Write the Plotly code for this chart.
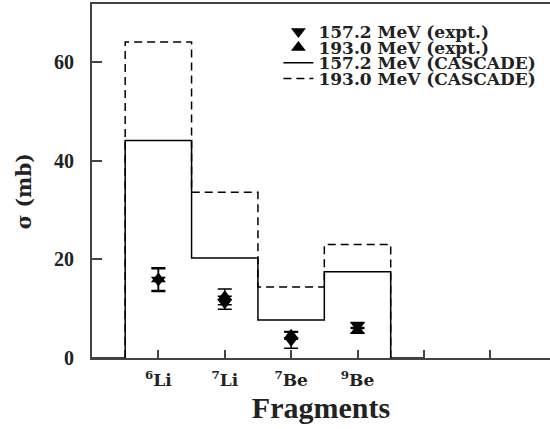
import plotly.graph_objects as go

# Fragment categories (positions 1..4 on the x axis)
fragments = ["<sup>6</sup>Li", "<sup>7</sup>Li", "<sup>7</sup>Be", "<sup>9</sup>Be"]
frag_pos = [1, 2, 3, 4]

# Measured cross sections (mb) with uncertainties
expt_157 = [15.8, 11.2, 3.6, 6.6]
err_157 = [2.3, 1.3, 1.6, 0.6]
expt_193 = [16.0, 12.4, 4.6, 5.6]
err_193 = [2.3, 1.6, 0.8, 0.6]

# CASCADE predictions, drawn as step histograms over bin edges
bin_edges = [0, 0.5, 1.5, 2.5, 3.5, 4.5, 5.0]
cascade_157 = [0, 44.1, 20.3, 7.7, 17.5, 0, 0]
dash_edges = [0.5, 0.5, 1.5, 2.5, 3.5, 4.5]
cascade_193 = [0, 64.1, 33.6, 14.4, 23.0, 0]

SERIF = "Liberation Serif"
WIDE = "DejaVu Serif"
INK = "#222"

fig = go.Figure()

fig.add_trace(go.Scatter(
    x=frag_pos, y=expt_157, mode="markers", name="157.2 MeV (expt.)",
    legend="legend",
    marker=dict(symbol="triangle-down", size=13, color="black"),
    error_y=dict(type="data", array=err_157, color="black", thickness=1.5, width=7),
))
fig.add_trace(go.Scatter(
    x=frag_pos, y=expt_193, mode="markers", name="193.0 MeV (expt.)",
    legend="legend2",
    marker=dict(symbol="triangle-up", size=13, color="black"),
    error_y=dict(type="data", array=err_193, color="black", thickness=1.5, width=7),
))
fig.add_trace(go.Scatter(
    x=bin_edges, y=cascade_157, mode="lines", name="157.2 MeV (CASCADE)",
    legend="legend3",
    line=dict(shape="hv", color="black", width=1.5),
))
fig.add_trace(go.Scatter(
    x=dash_edges, y=cascade_193, mode="lines", name="193.0 MeV (CASCADE)",
    legend="legend4",
    line=dict(shape="hv", color="black", width=1.5, dash="8px,5px"),
))


def legend_row(ypos):
    # one legend box per entry so the rows can sit close together
    return dict(
        x=0.407, y=ypos, xanchor="left", yanchor="middle",
        font=dict(family=WIDE, size=17, weight="bold", color=INK),
        bgcolor="rgba(0,0,0,0)", itemwidth=30, visible=True,
    )


fig.update_layout(
    width=550, height=429,
    margin=dict(l=92, r=0, t=4, b=71),
    plot_bgcolor="white", paper_bgcolor="white",
    font=dict(family=SERIF, color=INK, size=18, weight="bold"),
    showlegend=True,
    legend=legend_row(0.921),
    legend2=legend_row(0.876),
    legend3=legend_row(0.833),
    legend4=legend_row(0.788),
    xaxis=dict(
        range=[0, 6.9], tickmode="array",
        tickvals=frag_pos, ticktext=fragments,
        ticks="inside", ticklen=8, tickwidth=1.5, tickcolor="#444",
        minor=dict(tickmode="array", tickvals=[5, 6], ticks="inside",
                   ticklen=8, tickwidth=1.5, tickcolor="#444"),
        showline=True, linecolor="#444", linewidth=2, mirror=True,
        showgrid=False, zeroline=False,
        ticklabelstandoff=6,
        tickfont=dict(family=WIDE, size=17, weight="bold", color=INK),
        title=dict(text="Fragments", standoff=8,
                   font=dict(family=SERIF, size=30, weight="bold", color=INK)),
    ),
    yaxis=dict(
        range=[0, 71.8], tickmode="array", tickvals=[0, 20, 40, 60],
        ticks="inside", ticklen=10, tickwidth=1.5, tickcolor="#444",
        showline=True, linecolor="#444", linewidth=2, mirror=False,
        showgrid=False, zeroline=False,
        ticklabelstandoff=12,
        tickfont=dict(family=SERIF, size=20, weight="bold", color=INK),
    ),
    annotations=[dict(
        text="σ (mb)", xref="paper", yref="paper", x=-0.148, y=0.472,
        xanchor="center", yanchor="middle", textangle=-90, showarrow=False,
        font=dict(family=WIDE, size=20, weight="bold", color=INK),
    )],
)

fig.write_html("out.html")
